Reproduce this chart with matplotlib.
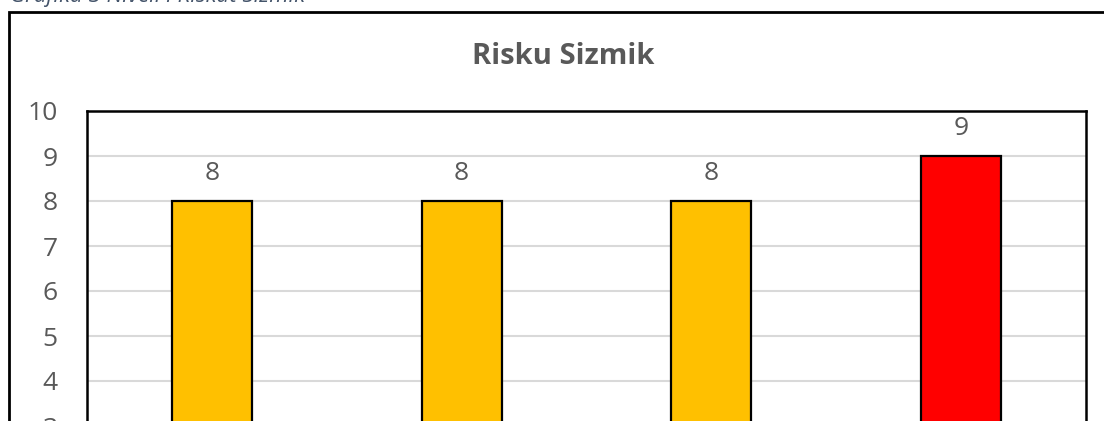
import matplotlib
matplotlib.use("Agg")
import matplotlib.pyplot as plt
from matplotlib.patches import Rectangle

categories = ["Kategoria 1", "Kategoria 2", "Kategoria 3", "Kategoria 4"]
values = [8, 8, 8, 9]
bar_colors = ["#FFC000", "#FFC000", "#FFC000", "#FF0000"]
yticks = [0, 1, 2, 3, 4, 5, 6, 7, 8, 9, 10]
title = "Risku Sizmik"
caption = "Grafiku 3 Niveli i Riskut Sizmik"

W, H = 1104, 421
fig = plt.figure(figsize=(W / 100, H / 100), dpi=100)
fig.patch.set_facecolor("white")

def fx(px):
    return px / W

def fy(py):
    return (H - py) / H

# axes: left 87, right 1086, top 111 (value 10), value 0 at 561
ax = fig.add_axes([fx(87), fy(561), fx(1086) - fx(87), fy(111) - fy(561)])
x = list(range(len(categories)))
ax.bar(x, values, width=0.32, color=bar_colors, edgecolor="black", linewidth=1.6, zorder=3)
ax.set_xlim(-0.5, len(categories) - 0.5)
ax.set_ylim(0, 10)
ax.set_yticks(yticks)
ax.set_yticklabels([str(t) for t in yticks])
ax.set_xticks(x)
ax.set_xticklabels(categories)
ax.grid(axis="y", color="#D9D9D9", linewidth=1.5, zorder=0)
ax.tick_params(axis="y", length=0, pad=21, labelsize=19, labelcolor="#595959")
ax.tick_params(axis="x", length=0, labelbottom=False)
for s in ax.spines.values():
    s.set_color("black")
    s.set_linewidth(1.8)
for xi, v in zip(x, values):
    ax.annotate(str(v), (xi, v), xytext=(0, 11), textcoords="offset points",
                ha="center", va="bottom", fontsize=19, color="#595959",
                fontfamily="Open Sans")
for lbl in ax.get_yticklabels():
    lbl.set_fontfamily("Open Sans")

fig.text(fx(563), fy(57), title, ha="center", va="center", fontsize=21,
         fontweight="bold", color="#595959", fontfamily="Open Sans")

# outer chart frame
fig.patches.append(Rectangle((fx(9), fy(600)), fx(1200) - fx(9), fy(12) - fy(600),
                             transform=fig.transFigure, fill=False,
                             edgecolor="black", linewidth=2, clip_on=False))

# caption (mostly cropped at top)
fig.text(fx(10), fy(2), caption, ha="left", va="baseline", fontsize=16,
         fontstyle="italic", color="#44546A", fontfamily="Open Sans")

fig.savefig("out.png", dpi=100)
